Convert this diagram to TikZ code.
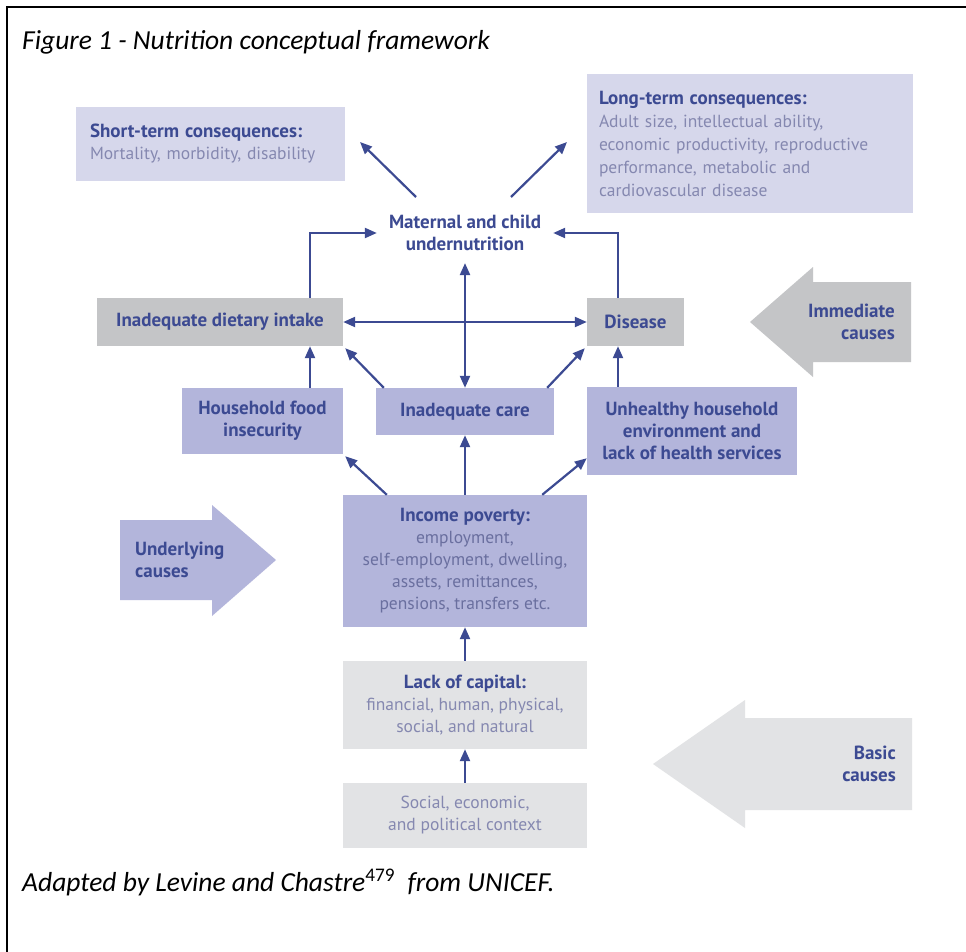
\documentclass[tikz,border=0pt]{standalone}
\usepackage{fontspec}
\setmainfont{PT Sans}
\newfontfamily\capfont{Carlito}
\usetikzlibrary{arrows.meta}
\definecolor{navy}{HTML}{3C4A92}
\definecolor{softtxt}{HTML}{8588B0}
\definecolor{midtxt}{HTML}{6A6F9F}
\definecolor{lav}{HTML}{D6D7EB}
\definecolor{lavdark}{HTML}{B3B5DB}
\definecolor{greybox}{HTML}{C4C5C7}
\definecolor{greylight}{HTML}{E2E3E5}
\newcommand{\hdfont}{\fontsize{19}{22}\selectfont\bfseries}
\newcommand{\bodyfont}{\fontsize{17.5}{22}\selectfont}
\newcommand{\hdline}[1]{{\hdfont\color{navy}#1}}
\tikzset{
  box/.style={inner sep=0pt, align=center, text=softtxt, font=\bodyfont},
  hd/.style={text=navy, font=\hdfont},
  arr/.style={draw=navy, line width=2.2pt, -{Triangle[length=12pt,width=10pt]}},
  darr/.style={draw=navy, line width=2.2pt,
    {Triangle[length=12pt,width=10pt]}-{Triangle[length=12pt,width=10pt]}},
  bigarrowtext/.style={text=navy, font=\hdfont, inner sep=0pt},
  capstyle/.style={font=\capfont\itshape\fontsize{27.5}{31}\selectfont, inner sep=0pt, anchor=base west}
}
\begin{document}
\begin{tikzpicture}[x=1pt,y=-1pt]
\useasboundingbox (0,0) rectangle (966,952);
\fill[white] (0,0) rectangle (966,952);
% frame rules along the top and left
\draw[line width=2pt] (7,952) -- (7,7) -- (966,7);

% heading and source line
\node[capstyle] (title) at (22,50) {Figure 1 - Nutrition conceptual framework};
\node[capstyle] (source) at (22,891) {Adapted by Levine and Chastre\textsuperscript{\upshape 479}\ \ from UNICEF.};

% large block arrows marking the levels of causes
\fill[greybox] (911,282) -- (813,282) -- (813,267) -- (750,322) -- (813,377) -- (813,362) -- (911,362) -- cycle;
\node[bigarrowtext, align=right, anchor=east] (immediate) at (895,322) {Immediate\\causes};
\fill[lavdark] (120,520) -- (212,520) -- (212,505) -- (276,560) -- (212,616) -- (212,600) -- (120,600) -- cycle;
\node[bigarrowtext, align=left, anchor=west] (underlying) at (135,560) {Underlying\\causes};
\fill[greylight] (912,718) -- (745,718) -- (745,700) -- (653,764) -- (745,828) -- (745,810) -- (912,810) -- cycle;
\node[bigarrowtext, align=right, anchor=east] (basic) at (896,764) {Basic\\causes};

% consequences
\node[box, fill=lav, align=left, minimum width=265pt, minimum height=74pt,
      text width=241pt, inner xsep=14pt] (short) at (210.5,144)
  {\hdline{Short-term consequences:}\\Mortality, morbidity, disability};
\node[box, fill=lav, align=left, minimum width=326pt, minimum height=139pt,
      text width=302pt, inner xsep=12pt, font=\fontsize{17.5}{23}\selectfont] (long) at (750,143.5)
  {\hdline{Long-term consequences:}\\Adult size, intellectual ability,\\economic productivity, reproductive\\performance, metabolic and\\cardiovascular disease};

% outcome
\node[box, hd, inner sep=12pt] (maternal) at (465,233) {Maternal and child\\undernutrition};

% immediate causes
\node[box, hd, fill=greybox, minimum width=246pt, minimum height=48pt] (dietary) at (220,322) {Inadequate dietary intake};
\node[box, hd, fill=greybox, minimum width=97pt, minimum height=48pt] (disease) at (635.5,322) {Disease};

% underlying causes
\node[box, hd, fill=lavdark, minimum width=161pt, minimum height=66pt] (food) at (262.5,421) {Household food\\insecurity};
\node[box, hd, fill=lavdark, minimum width=178pt, minimum height=47pt] (care) at (465,411.5) {Inadequate care};
\node[box, hd, fill=lavdark, minimum width=210pt, minimum height=88pt] (unhealthy) at (692,431) {Unhealthy household\\environment and\\lack of health services};
\node[box, fill=lavdark, text=midtxt, minimum width=244pt, minimum height=132pt] (income) at (465,561)
  {\hdline{Income poverty:}\\employment,\\self-employment, dwelling,\\assets, remittances,\\pensions, transfers etc.};

% basic causes
\node[box, fill=greylight, minimum width=244pt, minimum height=88pt] (capital) at (465,705)
  {\hdline{Lack of capital:}\\financial, human, physical,\\social, and natural};
\node[box, fill=greylight, minimum width=244pt, minimum height=65pt] (social) at (465,815.5)
  {Social, economic,\\and political context};

% free ends of the consequence arrows
\coordinate (stfrom) at (416,197);
\coordinate (stto) at (360,142);
\coordinate (ltfrom) at (511,197);
\coordinate (ltto) at (567,142);

% connectors
\draw[arr] (stfrom) -- (stto);
\draw[arr] (ltfrom) -- (ltto);
\draw[arr] ([xshift=90pt]dietary.north) |- (maternal.west);
\draw[arr] ([xshift=-17.5pt]disease.north) |- (maternal.east);
\draw[darr] (dietary.east) -- (disease.west);
\draw[darr] (maternal.south) -- (care.north);
\draw[arr] ([xshift=47.5pt]food.north) -- ([xshift=47.5pt]food.north |- dietary.south);
\draw[arr] ([xshift=8pt]care.north west) -- ([shift={(2pt,-2pt)}]dietary.south east);
\draw[arr] ([xshift=-7pt]care.north east) -- ([shift={(-2pt,-2pt)}]disease.south west);
\draw[arr] ([xshift=-74pt]unhealthy.north) -- ([xshift=-74pt]unhealthy.north |- disease.south);
\draw[arr] ([xshift=44pt]income.north west) -- ([shift={(2pt,-2pt)}]food.south east);
\draw[arr] (income.north) -- (care.south);
\draw[arr] ([xshift=-45pt]income.north east) -- ([yshift=17pt]unhealthy.south west);
\draw[arr] (capital.north) -- (income.south);
\draw[arr] (social.north) -- (capital.south);
\end{tikzpicture}
\end{document}
